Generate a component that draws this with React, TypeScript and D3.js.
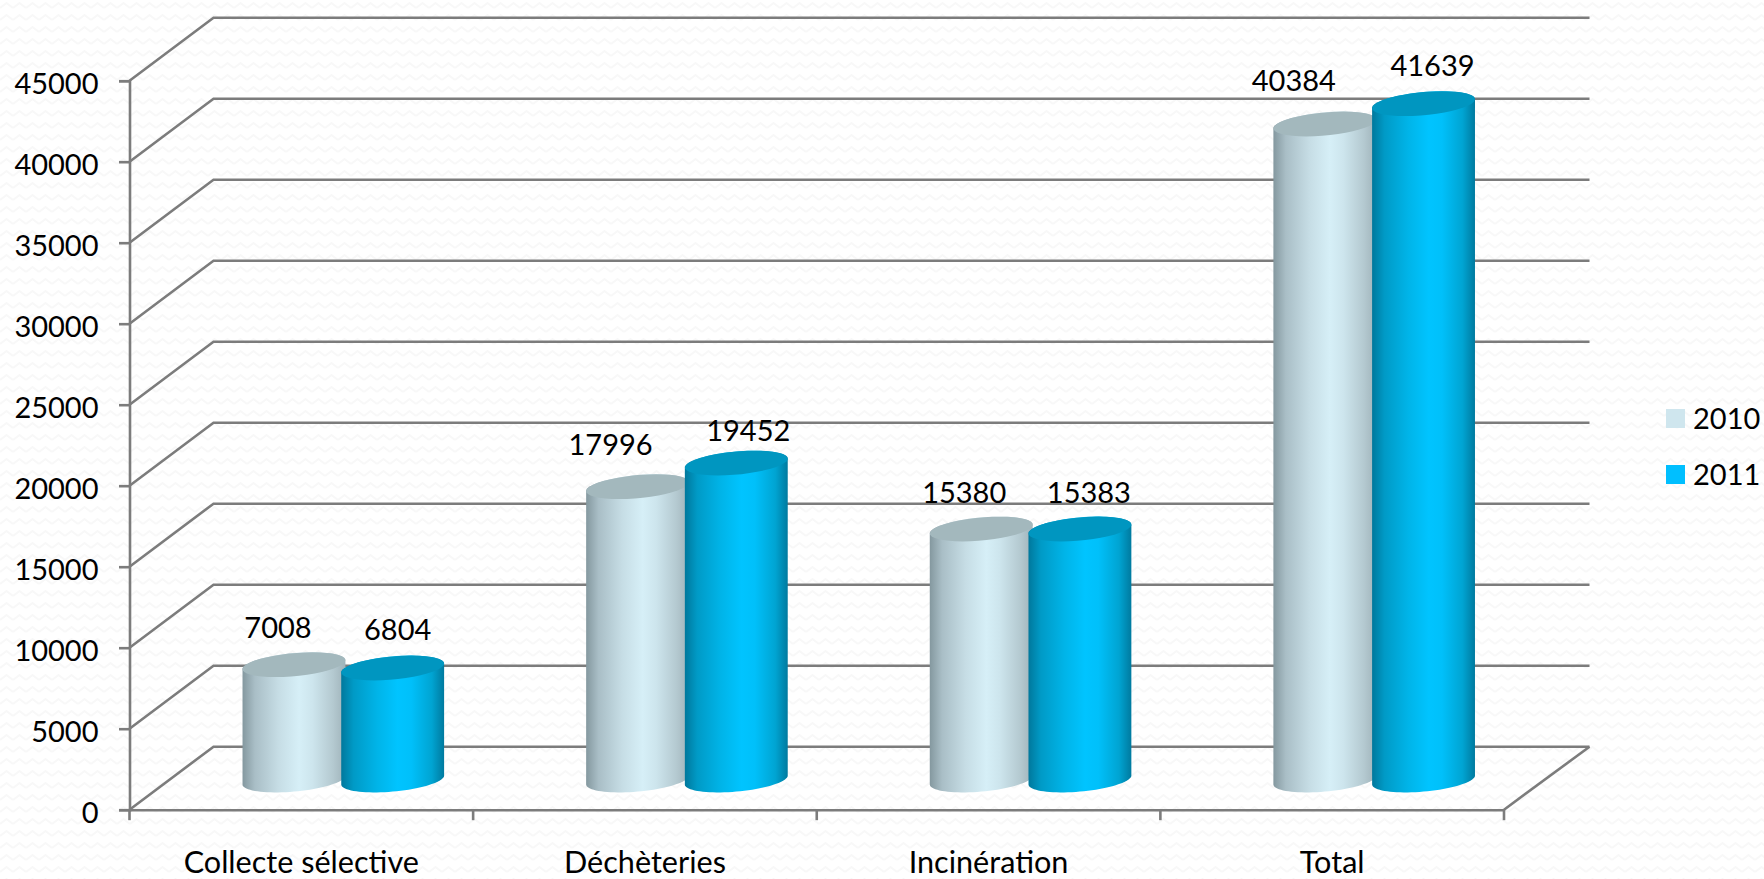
import React, { useEffect, useRef } from "react";
import { select, scaleBand, scaleLinear, axisLeft, axisBottom, line, range, curveLinearClosed } from "d3";

const categories = ["Collecte sélective", "Déchèteries", "Incinération", "Total"];
const seriesNames = ["2010", "2011"];
const values2010 = [7008, 17996, 15380, 40384];
const values2011 = [6804, 19452, 15383, 41639];
const yTicks = [0, 5000, 10000, 15000, 20000, 25000, 30000, 35000, 40000, 45000];

// hand placed data labels in the original: [dx from cylinder, dy from cylinder top]
const nudge2010 = [[-16, -14], [-27, -19], [-17, -14], [-31, -21]];
const nudge2011 = [[5, -16], [12, -10], [9, -14], [9, -15]];

const WIDTH = 1764;
const HEIGHT = 879;
const FONT = "Lato, sans-serif";
const GRID = "#7c7c7c";
const NUM_SIZE = 29;
const CAT_SIZE = 30.6;

const left = 129.5;
const right = 1504;
const bottom = 809.7;
const top = 80.7;
const depthX = 84;
const wallX = 85.5;
const depthY = -63;

// cylinder shape
const halfX = 48;
const skewX = 18.5;
const halfY = 12.4;
const baseDrop = 1.8;

const colors = [
  {
    top: "#a3b8bd",
    swatch: "#cfe6ee",
    stops: ["#84989f", "#a9bec6", "#c6dde5", "#d6eff7", "#cde5ed", "#b4c9d0", "#9fb2b9"],
  },
  {
    top: "#0096c0",
    swatch: "#00bfff",
    stops: ["#00789c", "#009ac6", "#00b4e8", "#00c4ff", "#00c0fa", "#00a4d2", "#007a9f"],
  },
];
const stopOffsets = [0, 0.12, 0.35, 0.55, 0.68, 0.88, 1];

const App: React.FC = () => {
  const svgRef = useRef<SVGSVGElement>(null);

  useEffect(() => {
    const svg = select(svgRef.current);
    svg.selectAll("*").remove();

    const xScale = scaleBand<string>().domain(categories).range([left, right]);
    const yScale = scaleLinear().domain([0, 45000]).range([bottom, top]);
    const seriesScale = scaleBand<string>().domain(seriesNames).range([-98.7, 98.7]);

    // fond
    const defs = svg.append("defs");
    const pattern = defs
      .append("pattern")
      .attr("id", "zigzag")
      .attr("patternUnits", "userSpaceOnUse")
      .attr("width", 13)
      .attr("height", 12);
    pattern
      .append("path")
      .attr("d", "M0 8 L6.5 3 L13 8")
      .attr("fill", "none")
      .attr("stroke", "#f8f8f8")
      .attr("stroke-width", 2);

    colors.forEach((c, i) => {
      const grad = defs.append("linearGradient").attr("id", `cyl${i}`);
      c.stops.forEach((s, j) => {
        grad.append("stop").attr("offset", stopOffsets[j]).attr("stop-color", s);
      });
    });

    svg.append("rect").attr("width", WIDTH).attr("height", HEIGHT).attr("fill", "#fff");
    svg.append("rect").attr("width", WIDTH).attr("height", HEIGHT).attr("fill", "url(#zigzag)");

    // parois 3D
    const grid = svg.append("g").attr("fill", "none").attr("stroke", GRID).attr("stroke-width", 2.6);
    grid
      .selectAll("path")
      .data(yTicks)
      .join("path")
      .attr("d", (d) => {
        const y = yScale(d);
        return `M${left},${y}L${left + depthX},${y + depthY}L${right + wallX},${y + depthY}`;
      });
    grid
      .append("path")
      .attr("d", `M${right},${bottom}L${right + wallX},${bottom + depthY}`);

    // axes
    const yAxisG = svg
      .append("g")
      .attr("transform", `translate(${left},0)`)
      .call(axisLeft(yScale).tickValues(yTicks).tickSize(10.5).tickPadding(20.5).tickFormat((d) => String(d)));
    const xAxisG = svg
      .append("g")
      .attr("transform", `translate(0,${bottom})`)
      .call(axisBottom(xScale).tickSize(0).tickPadding(45));

    xAxisG
      .selectAll("line.edge")
      .data(range(categories.length + 1))
      .join("line")
      .attr("class", "edge")
      .attr("x1", (i) => left + i * xScale.step())
      .attr("x2", (i) => left + i * xScale.step())
      .attr("y1", 0)
      .attr("y2", 10.5);

    [xAxisG, yAxisG].forEach((axisG) => {
      axisG.selectAll("path.domain").attr("stroke", GRID).attr("stroke-width", 2.6);
      axisG.selectAll("line").attr("stroke", GRID).attr("stroke-width", 2.6);
      axisG.selectAll("text").attr("fill", "#000").attr("font-family", FONT);
    });
    yAxisG.selectAll("text").attr("font-size", NUM_SIZE).attr("dy", 13);
    xAxisG.selectAll("text").attr("font-size", CAT_SIZE).attr("dy", 0).attr("y", 63.5);

    // cylindres
    const ellipse = (cx: number, cy: number, from: number, to: number) =>
      range(0, 41).map((k) => {
        const t = from + ((to - from) * k) / 40;
        return [cx + halfX * Math.cos(t) + skewX * Math.sin(t), cy - halfY * Math.sin(t)] as [number, number];
      });
    const t0 = Math.atan2(skewX, halfX);
    const closed = line().curve(curveLinearClosed);

    const rows = [values2010, values2011];
    const nudges = [nudge2010, nudge2011];
    const bars = svg.append("g");
    const labels = svg.append("g");

    categories.forEach((cat, i) => {
      seriesNames.forEach((name, s) => {
        const cx =
          xScale(cat)! + xScale.bandwidth() / 2 + depthX / 2 + seriesScale(name)! + seriesScale.bandwidth() / 2;
        const yTop = yScale(rows[s][i]) + depthY / 2;
        const yBase = yScale(0) + depthY / 2 + baseDrop;

        const body = [
          ...ellipse(cx, yBase, t0, t0 - Math.PI),
          ...ellipse(cx, yTop, t0 - Math.PI, t0 - 2 * Math.PI),
        ];
        bars.append("path").attr("d", closed(body)).attr("fill", `url(#cyl${s})`);
        bars
          .append("path")
          .attr("d", closed(ellipse(cx, yTop, 0, 2 * Math.PI)))
          .attr("fill", colors[s].top);

        labels
          .append("text")
          .attr("x", cx + nudges[s][i][0])
          .attr("y", yTop - halfY + nudges[s][i][1])
          .attr("text-anchor", "middle")
          .attr("font-family", FONT)
          .attr("font-size", NUM_SIZE)
          .attr("fill", "#000")
          .text(rows[s][i]);
      });
    });

    // légende
    const legend = svg
      .append("g")
      .selectAll("g")
      .data(seriesNames)
      .join("g")
      .attr("transform", (_, i) => `translate(1666,${409 + i * 56})`);
    legend
      .append("rect")
      .attr("width", 19)
      .attr("height", 19)
      .attr("fill", (_, i) => colors[i].swatch);
    legend
      .append("text")
      .attr("x", 27)
      .attr("y", 20)
      .attr("font-family", FONT)
      .attr("font-size", NUM_SIZE)
      .attr("fill", "#000")
      .text((d) => d);
  }, []);

  return (
    <svg
      ref={svgRef}
      width={WIDTH}
      height={HEIGHT}
      viewBox={`0 0 ${WIDTH} ${HEIGHT}`}
      style={{ position: "absolute", left: 0, top: 0, display: "block" }}
    />
  );
};

export default App;
